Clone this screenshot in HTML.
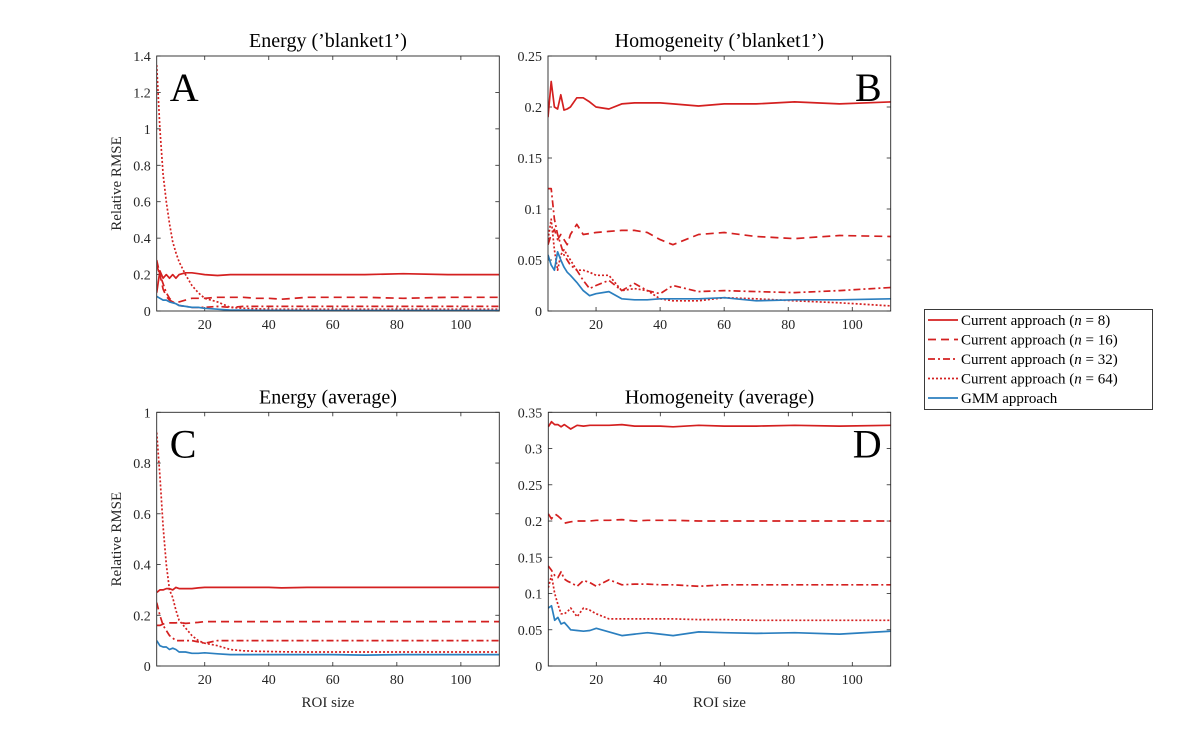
<!DOCTYPE html>
<html><head><meta charset="utf-8">
<style>
body{margin:0;background:#fff;}
svg{display:block;font-family:"Liberation Serif",serif;}
</style></head>
<body>
<svg id="chart" width="1200" height="750" viewBox="0 0 1200 750"></svg>
<script>
const xs = [5,6,7,8,9,10,11,12,14,16,18,20,24,28,32,36,40,44,52,60,70,82,96,112];
const xTicks = [20,40,60,80,100];

const aN8  = [0.1,0.22,0.18,0.2,0.18,0.2,0.18,0.2,0.21,0.21,0.205,0.2,0.195,0.2,0.2,0.2,0.2,0.2,0.2,0.2,0.2,0.205,0.2,0.2];
const aN16 = [0.28,0.2,0.12,0.08,0.06,0.05,0.05,0.05,0.06,0.07,0.07,0.07,0.075,0.075,0.075,0.07,0.07,0.065,0.075,0.075,0.075,0.07,0.075,0.075];
const aN32 = [0.25,0.2,0.15,0.1,0.07,0.05,0.04,0.03,0.025,0.02,0.02,0.02,0.025,0.02,0.025,0.025,0.025,0.025,0.025,0.025,0.025,0.025,0.025,0.025];
const aN64 = [1.35,1.0,0.75,0.6,0.48,0.38,0.32,0.27,0.2,0.14,0.1,0.07,0.05,0.02,0.015,0.012,0.01,0.01,0.01,0.01,0.01,0.01,0.01,0.01];
const aGMM = [0.08,0.07,0.06,0.06,0.05,0.045,0.04,0.03,0.025,0.02,0.02,0.015,0.01,0.005,0.005,0.004,0.004,0.004,0.003,0.003,0.003,0.003,0.003,0.003];

const bN8  = [0.19,0.225,0.2,0.198,0.212,0.197,0.198,0.2,0.209,0.209,0.205,0.2,0.198,0.203,0.204,0.204,0.204,0.203,0.201,0.203,0.203,0.205,0.203,0.205];
const bN16 = [0.065,0.075,0.08,0.07,0.075,0.07,0.065,0.075,0.085,0.075,0.076,0.077,0.078,0.079,0.079,0.077,0.07,0.065,0.075,0.077,0.073,0.071,0.074,0.073];
const bN32 = [0.12,0.12,0.09,0.075,0.065,0.055,0.05,0.045,0.04,0.03,0.022,0.025,0.03,0.02,0.027,0.02,0.017,0.025,0.019,0.02,0.019,0.018,0.02,0.023];
const bN64 = [0.07,0.09,0.06,0.04,0.055,0.06,0.055,0.05,0.04,0.04,0.038,0.035,0.035,0.02,0.022,0.02,0.012,0.01,0.01,0.013,0.012,0.01,0.008,0.005];
const bGMM = [0.055,0.045,0.04,0.058,0.05,0.043,0.038,0.035,0.028,0.02,0.015,0.017,0.019,0.012,0.011,0.011,0.012,0.012,0.012,0.013,0.01,0.011,0.011,0.012];

const cN8  = [0.29,0.3,0.3,0.305,0.305,0.3,0.31,0.305,0.305,0.305,0.308,0.31,0.31,0.31,0.31,0.31,0.31,0.308,0.31,0.31,0.31,0.31,0.31,0.31];
const cN16 = [0.16,0.16,0.165,0.17,0.17,0.17,0.17,0.172,0.168,0.17,0.172,0.175,0.175,0.175,0.175,0.175,0.175,0.175,0.175,0.175,0.175,0.175,0.175,0.175];
const cN32 = [0.25,0.2,0.16,0.14,0.12,0.11,0.1,0.1,0.1,0.1,0.095,0.09,0.1,0.1,0.1,0.1,0.1,0.1,0.1,0.1,0.1,0.1,0.1,0.1];
const cN64 = [0.92,0.75,0.55,0.4,0.3,0.27,0.22,0.18,0.15,0.12,0.1,0.09,0.08,0.065,0.06,0.058,0.057,0.056,0.055,0.055,0.055,0.055,0.055,0.055];
const cGMM = [0.1,0.08,0.075,0.075,0.065,0.07,0.065,0.055,0.055,0.05,0.05,0.052,0.048,0.045,0.045,0.045,0.045,0.045,0.045,0.045,0.043,0.045,0.045,0.045];

const dN8  = [0.33,0.337,0.333,0.333,0.33,0.333,0.33,0.327,0.332,0.331,0.332,0.332,0.332,0.333,0.331,0.331,0.331,0.33,0.332,0.331,0.331,0.332,0.331,0.332];
const dN16 = [0.21,0.203,0.21,0.207,0.203,0.197,0.198,0.199,0.2,0.2,0.2,0.201,0.201,0.202,0.2,0.201,0.201,0.201,0.2,0.2,0.2,0.2,0.2,0.2];
const dN32 = [0.138,0.132,0.125,0.122,0.13,0.12,0.117,0.115,0.11,0.118,0.115,0.11,0.119,0.112,0.113,0.113,0.112,0.112,0.11,0.112,0.112,0.112,0.112,0.112];
const dN64 = [0.108,0.125,0.1,0.085,0.072,0.072,0.075,0.08,0.068,0.08,0.077,0.072,0.065,0.065,0.065,0.065,0.065,0.065,0.064,0.064,0.063,0.063,0.063,0.063];
const dGMM = [0.08,0.083,0.063,0.067,0.058,0.06,0.055,0.05,0.049,0.048,0.049,0.052,0.047,0.042,0.044,0.046,0.044,0.042,0.047,0.046,0.045,0.046,0.044,0.048];

const aTicks = [0,0.2,0.4,0.6,0.8,1,1.2,1.4];
const bTicks = [0,0.05,0.1,0.15,0.2,0.25];
const cTicks = [0,0.2,0.4,0.6,0.8,1];
const dTicks = [0,0.05,0.1,0.15,0.2,0.25,0.3,0.35];
const legendLabels = ["Current approach (n = 8)","Current approach (n = 16)","Current approach (n = 32)","Current approach (n = 64)","GMM approach"];

const NS="http://www.w3.org/2000/svg";
const svg=document.getElementById('chart');
const RED="#d42020", BLUE="#2b7fbf";
const styles=[{c:RED,d:""},{c:RED,d:"8,5"},{c:RED,d:"7,3,2,3"},{c:RED,d:"2,2"},{c:BLUE,d:""}];
const seriesNames=["n8","n16","n32","n64","gmm"];
function mk(tag,attrs,parent){const e=document.createElementNS(NS,tag);for(const k in attrs)e.setAttribute(k,attrs[k]);(parent||svg).appendChild(e);return e;}

const panels=[
 {id:"a",title:"Energy (\u2019blanket1\u2019)",letter:"A",lx:"left",L:156.7,R:499.3,T:56,B:311,ymax:1.4,ticks:aTicks,series:[aN8,aN16,aN32,aN64,aGMM],ylab:true,xlab:false},
 {id:"b",title:"Homogeneity (\u2019blanket1\u2019)",letter:"B",lx:"right",L:548,R:890.7,T:56,B:311,ymax:0.25,ticks:bTicks,series:[bN8,bN16,bN32,bN64,bGMM],ylab:false,xlab:false},
 {id:"c",title:"Energy (average)",letter:"C",lx:"left",L:156.7,R:499.3,T:412.3,B:666,ymax:1,ticks:cTicks,series:[cN8,cN16,cN32,cN64,cGMM],ylab:true,xlab:true},
 {id:"d",title:"Homogeneity (average)",letter:"D",lx:"right",L:548.3,R:890.7,T:412.3,B:666,ymax:0.35,ticks:dTicks,series:[dN8,dN16,dN32,dN64,dGMM],ylab:false,xlab:true}
];
const XMIN=5, XMAX=112;
panels.forEach(p=>{
  const g=mk('g',{});
  
  
  const sx=v=>p.L+(v-XMIN)/(XMAX-XMIN)*(p.R-p.L);
  const sy=v=>p.B-v/p.ymax*(p.B-p.T);
  const clip=mk('clipPath',{id:'clip-'+p.id},g);
  mk('rect',{x:p.L,y:p.T,width:p.R-p.L,height:p.B-p.T},clip);
  // ticks
  xTicks.forEach(t=>{
    const x=sx(t);
    mk('line',{x1:x,x2:x,y1:p.B,y2:p.B-4,stroke:'#262626','stroke-width':0.8},g);
    mk('line',{x1:x,x2:x,y1:p.T,y2:p.T+4,stroke:'#262626','stroke-width':0.8},g);
    const tx=mk('text',{x:x,y:p.B+18,'text-anchor':'middle','font-size':14,fill:'#262626'},g);
    tx.textContent=t;
    
    
  });
  p.ticks.forEach(t=>{
    const y=sy(t);
    mk('line',{x1:p.L,x2:p.L+4,y1:y,y2:y,stroke:'#262626','stroke-width':0.8},g);
    mk('line',{x1:p.R,x2:p.R-4,y1:y,y2:y,stroke:'#262626','stroke-width':0.8},g);
    const tx=mk('text',{x:p.L-6,y:y+5,'text-anchor':'end','font-size':14,fill:'#262626'},g);
    tx.textContent=String(t);
    
    
  });
  // series
  p.series.forEach((s,i)=>{
    const d=s.map((v,j)=>(j?'L':'M')+sx(xs[j]).toFixed(1)+','+sy(v).toFixed(1)).join(' ');
    const path=mk('path',{d:d,fill:'none',stroke:styles[i].c,'stroke-width':1.7,'stroke-dasharray':styles[i].d,'clip-path':'url(#clip-'+p.id+')','stroke-linejoin':'round'},g);
    
    
  });
  const fr=mk('rect',{x:p.L,y:p.T,width:p.R-p.L,height:p.B-p.T,fill:'none',stroke:'#262626','stroke-width':0.9},g);
  
  
  const ti=mk('text',{x:(p.L+p.R)/2,y:p.T-9,'text-anchor':'middle','font-size':20,fill:'#000'},g);
  ti.textContent=p.title;
  
  
  const le=mk('text',{x:p.lx==='left'?p.L+13:p.R-9,y:p.T+45,'text-anchor':p.lx==='left'?'start':'end','font-size':40,fill:'#000'},g);
  le.textContent=p.letter;
  
  
  if(p.ylab){
    const cy=(p.T+p.B)/2;
    const yl=mk('text',{x:121,y:cy,'text-anchor':'middle','font-size':15,fill:'#262626',transform:'rotate(-90 121 '+cy+')'},g);
    yl.textContent="Relative RMSE";
    
    
  }
  if(p.xlab){
    const xl=mk('text',{x:(p.L+p.R)/2,y:p.B+41,'text-anchor':'middle','font-size':15,fill:'#262626'},g);
    xl.textContent="ROI size";
    
    
  }
});
// legend
const lg=mk('g',{});


mk('rect',{x:924.5,y:309.5,width:228,height:100,fill:'#fff',stroke:'#262626','stroke-width':0.9},lg);
legendLabels.forEach((lab,i)=>{
  const y=320+i*19.5;
  const e=mk('g',{},lg);
  
  
  mk('line',{x1:928,x2:958,y1:y,y2:y,stroke:styles[i].c,'stroke-width':1.7,'stroke-dasharray':styles[i].d},e);
  const t=mk('text',{x:961,y:y+5,'font-size':15,fill:'#000'},e);
  const m=lab.match(/^(.*\()n( = )(\d+)(\))$/);
  if(m){
    t.appendChild(document.createTextNode(m[1]));
    const ts=mk('tspan',{'font-style':'italic'},t); ts.textContent='n';
    t.appendChild(document.createTextNode(m[2]+m[3]+m[4]));
  } else t.textContent=lab;
});
</script>
</body></html>
